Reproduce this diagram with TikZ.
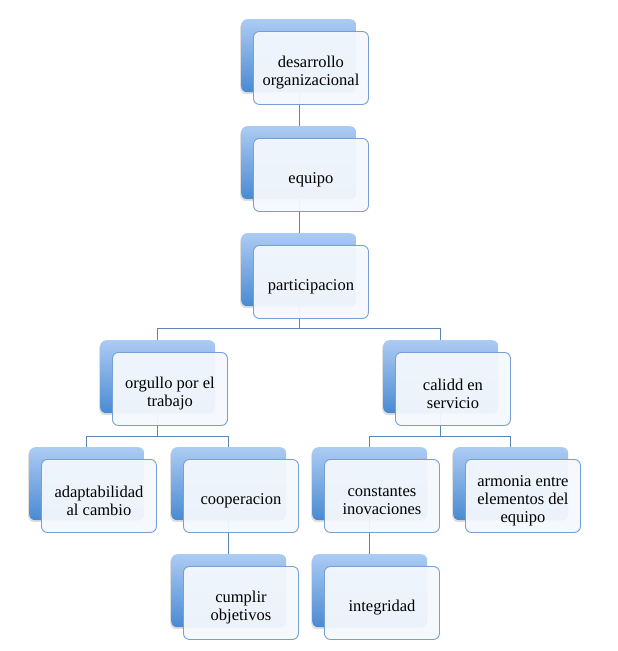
\documentclass[tikz,border=0pt]{standalone}
\usepackage{fontspec}
\setmainfont{Liberation Serif}
\usetikzlibrary{shadows}
\definecolor{topblue}{RGB}{172,203,243}
\definecolor{botblue}{RGB}{74,138,210}
\definecolor{frontfill}{RGB}{244,248,253}
\definecolor{frontline}{RGB}{118,160,212}
\definecolor{connline}{RGB}{92,132,180}
\tikzset{
  backbox/.style={rectangle, rounded corners=6pt, minimum width=115pt, minimum height=73pt,
    top color=topblue, bottom color=botblue, draw=none, anchor=north west,
    drop shadow={shadow xshift=-1pt, shadow yshift=-2pt, opacity=0.25}},
  frontbox/.style={rectangle, rounded corners=6pt, minimum width=115pt, minimum height=73pt,
    fill=frontfill, fill opacity=0.95, text opacity=1, draw=frontline, line width=0.9pt,
    anchor=north west, inner sep=0pt},
  boxtext/.style={align=center, inner sep=0pt, font=\fontsize{16.5}{18}\selectfont},
  conn/.style={draw=connline, line width=0.8pt}
}
\newcommand{\mybox}[4]{%
  \node[backbox] (#1-b) at (#2,#3) {};
  \node[frontbox] (#1) at (#2+12,#3+12) {};
  \node[boxtext] (#1-t) at ([yshift=-4.5pt]#1.center) {#4};
}
\begin{document}
\begin{tikzpicture}[x=1pt,y=-1pt]
\useasboundingbox (0,0) rectangle (618,651);
% connectors (behind)
\draw[conn] (299,55) -- (299,170);
\draw[conn] (299,160) -- (299,270);
\draw[conn] (299,270) -- (299,328);
\draw[conn] (157,376) |- (440,328) -- (440,376);
\draw[conn] (157,376) -- (157,436);
\draw[conn] (86,483) |- (228,436) -- (228,483);
\draw[conn] (228,483) -- (228,590);
\draw[conn] (440,376) -- (440,436);
\draw[conn] (369,483) |- (510,436) -- (510,483);
\draw[conn] (369,483) -- (369,590);
% boxes
\mybox{a}{241}{19}{desarrollo\\organizacional}
\mybox{b}{241}{126}{equipo}
\mybox{c}{241}{233}{participacion}
\mybox{d}{100}{340}{orgullo por el\\trabajo}
\mybox{e}{383}{340}{calidd en\\servicio}
\mybox{f}{29}{447}{adaptabilidad\\al cambio}
\mybox{g}{171}{447}{cooperacion}
\mybox{h}{312}{447}{constantes\\inovaciones}
\mybox{i}{453}{447}{armonia entre\\elementos del\\equipo}
\mybox{j}{171}{554}{cumplir\\objetivos}
\mybox{k}{312}{554}{integridad}
\end{tikzpicture}
\end{document}
